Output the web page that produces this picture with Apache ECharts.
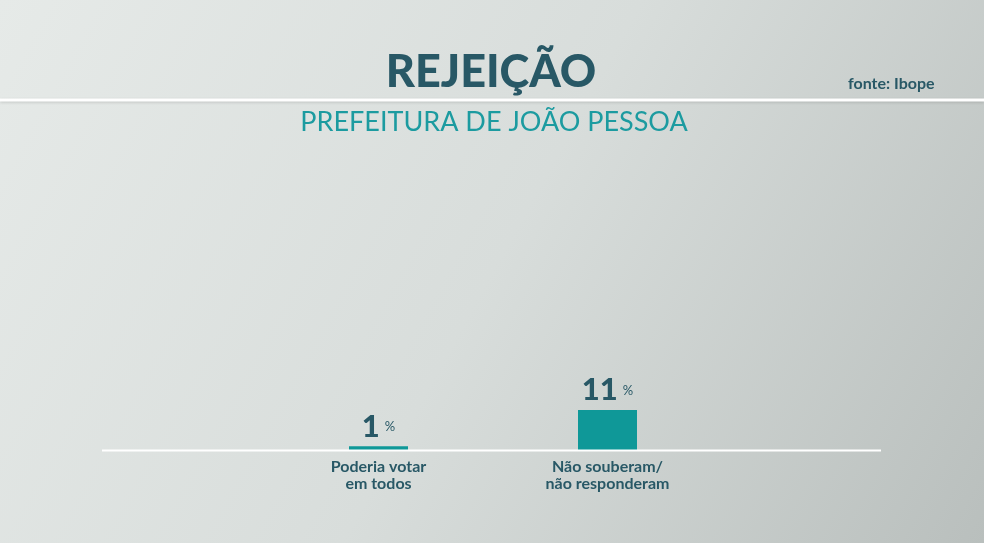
<!DOCTYPE html>
<html>
<head>
<meta charset="utf-8">
<script src="https://cdn.jsdelivr.net/npm/echarts@6/dist/echarts.min.js"></script>
<style>
  html, body { margin: 0; padding: 0; }
  #chart { width: 984px; height: 543px; }
</style>
</head>
<body>
<div id="chart"></div>
<script>
// Data
var categories = ['Poderia votar\nem todos', 'Não souberam/\nnão responderam'];
var values = [1, 11];

var titleColor = '#285866';
var tealColor = '#1c9ba0';
var barColor = '#0f9898';

var chart = echarts.init(document.getElementById('chart'), null, {renderer: 'canvas'});

var option = {
  animation: false,
  backgroundColor: {
    type: 'linear', x: 0, y: 0, x2: 1, y2: 1,
    colorStops: [
      {offset: 0, color: '#e6eae8'},
      {offset: 0.5, color: '#d8dddb'},
      {offset: 1, color: '#b9bfbd'}
    ]
  },
  title: [
    {
      text: 'REJEIÇÃO',
      left: 486, top: 45, textAlign: 'center',
      textStyle: {fontFamily: 'Lato', fontWeight: 900, fontSize: 45, color: titleColor}
    },
    {
      text: 'PREFEITURA DE JOÃO PESSOA',
      left: 489, top: 104, textAlign: 'center',
      textStyle: {fontFamily: 'Lato', fontWeight: 'normal', fontSize: 27, color: tealColor}
    },
    {
      text: 'fonte: Ibope',
      left: 843, top: 71,
      textStyle: {fontFamily: 'Lato', fontWeight: 'bold', fontSize: 16, color: titleColor}
    }
  ],
  graphic: [
    {
      type: 'line', z: 10,
      shape: {x1: 0, y1: 100, x2: 984, y2: 100},
      style: {stroke: '#ffffff', lineWidth: 3, shadowColor: 'rgba(0,0,0,0.15)', shadowBlur: 3, shadowOffsetY: 1}
    },
    {
      type: 'line', z: 10,
      shape: {x1: 102, y1: 450.5, x2: 881, y2: 450.5},
      style: {stroke: '#ffffff', lineWidth: 2}
    }
  ],
  grid: {left: 264, width: 458, top: 86, bottom: 93},
  xAxis: {
    type: 'category',
    data: categories,
    axisLine: {show: false},
    axisTick: {show: false},
    axisLabel: {
      margin: 8,
      fontFamily: 'Lato', fontWeight: 'bold', fontSize: 16, lineHeight: 17,
      color: titleColor, align: 'center'
    }
  },
  yAxis: {
    type: 'value', min: 0, max: 100,
    show: false, splitLine: {show: false}
  },
  series: [{
    type: 'bar',
    data: values,
    barWidth: 59,
    itemStyle: {color: barColor},
    label: {
      show: true,
      position: 'top',
      distance: 4,
      formatter: function(p) { return '{v|' + p.value + '}{p|%}'; },
      rich: {
        v: {fontFamily: 'Lato', fontWeight: 900, fontSize: 31, color: titleColor},
        p: {fontFamily: 'Lato', fontSize: 13, color: titleColor, padding: [0, 0, 0, 5]}
      }
    }
  }]
};

chart.setOption(option);
</script>
</body>
</html>
